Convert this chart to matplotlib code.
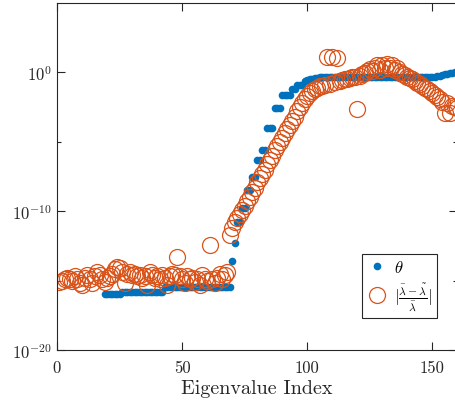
import numpy as np
import matplotlib
matplotlib.use("Agg")
import matplotlib.pyplot as plt
from matplotlib.ticker import FixedLocator, FixedFormatter

plt.rcParams['font.family'] = 'serif'
plt.rcParams['font.serif'] = ['cmr10']
plt.rcParams['mathtext.fontset'] = 'cm'
plt.rcParams['axes.unicode_minus'] = False

# theta (blue dots), log10 values, indices 19..160
theta_idx = np.arange(19, 161)
theta_log = (
    [-16.0] * 7 + [-15.8] * 17 + [-15.45] * 27
    + [-13.6, -12.3, -10.8, -10.8, -9.75, -9.75, -8.45, -8.45, -7.5, -7.5,
       -6.3, -6.3, -5.6, -5.6, -4.0, -4.0, -4.0, -2.55, -2.55, -2.55,
       -1.6, -1.6, -1.6, -1.6, -1.2, -1.2, -0.9, -0.9, -0.9,
       -0.6, -0.55, -0.5, -0.45, -0.42, -0.4]
    + [-0.35] * 46
    + [-0.3, -0.28, -0.25, -0.2, -0.15, -0.1, -0.06, -0.03, 0.0, 0.02]
)

# relative error (orange circles), log10 values, indices 1..160
err_idx = np.arange(1, 161)
err_log = [
    -15.1, -15.0, -14.9, -14.8, -14.9, -15.0, -14.7, -14.9, -15.2, -15.3,
    -14.8, -14.6, -14.9, -15.2, -14.7, -14.4, -14.6, -14.9, -15.1, -14.8,
    -14.7, -14.5, -14.2, -14.0, -14.1, -14.4, -15.2, -14.5, -14.4, -14.6,
    -14.5, -14.7, -14.6, -14.8, -14.7, -15.3, -14.4, -14.6, -14.8, -14.7,
    -14.9, -14.6, -14.8, -15.3, -14.7, -14.5, -14.6, -13.3, -14.7, -14.9,
    -15.2, -14.7, -14.9, -14.8, -15.1, -14.9, -15.3, -14.6, -14.9, -15.0,
    -12.4, -14.9, -15.2, -14.8, -14.5, -14.9, -14.6, -14.4, -11.7, -11.2,
    -10.8, -10.5, -10.2, -9.9, -9.6, -9.3, -9.0, -8.6, -8.3, -7.9,
    -7.6, -7.3, -7.0, -6.6, -6.3, -6.0, -5.6, -5.3, -5.0, -4.7,
    -4.4, -4.1, -3.8, -3.5, -3.2, -2.8, -2.5, -2.2, -1.9, -1.7,
    -1.5, -1.35, -1.2, -1.1, -1.0, -0.95, -0.9, 1.08, -0.8, 1.1,
    -0.7, 1.05, -0.6, -0.55, -0.5, -0.45, -0.4, -0.35, -0.3, -2.67,
    -0.25, -0.15, -0.05, 0.1, 0.25, 0.1, 0.35, 0.5, 0.2, 0.55,
    0.3, 0.6, 0.35, 0.5, 0.2, 0.3, 0.0, -0.1, -0.2, -0.3,
    -0.4, -0.5, -0.6, -0.75, -0.85, -0.95, -1.1, -1.2, -1.35, -1.5,
    -1.6, -1.8, -1.95, -2.1, -2.9, -2.2, -2.95, -2.4, -2.5, -2.6,
]

blue = '#0072BD'
orange = '#D95319'
axc = '#262626'

fig = plt.figure(figsize=(4.56, 4.06), dpi=100)
ax = fig.add_axes([57 / 456, 55 / 406, 400 / 456, 347 / 406])

ax.semilogy(theta_idx, 10.0 ** np.array(theta_log), 'o', color=blue,
            markersize=5.5, markeredgewidth=0, label=r'$\theta$')
ax.semilogy(err_idx, 10.0 ** np.array(err_log), 'o', markerfacecolor='none',
            markeredgecolor=orange, markersize=11.5, markeredgewidth=0.9,
            label=r'$|\frac{\bar{\lambda}-\tilde{\lambda}}{\bar{\lambda}}|$')

ax.set_xlim(0, 160)
ax.set_ylim(1e-20, 1e5)
ax.set_xticks([0, 50, 100, 150])
ax.yaxis.set_major_locator(FixedLocator([1e-20, 1e-10, 1e0]))
ax.yaxis.set_major_formatter(FixedFormatter([r'$10^{-20}$', r'$10^{-10}$', r'$10^{0}$']))
ax.yaxis.set_minor_locator(FixedLocator([1e-15, 1e-5]))
ax.yaxis.set_minor_formatter(FixedFormatter(['', '']))

ax.tick_params(which='both', direction='in', top=True, right=True,
               color=axc, labelcolor=axc, labelsize=12)
ax.tick_params(which='major', length=5.5, width=0.8)
ax.tick_params(which='minor', length=3, width=0.8)
ax.tick_params(axis='x', pad=7)
for s in ax.spines.values():
    s.set_color(axc)
    s.set_linewidth(0.8)

ax.set_xlabel('Eigenvalue Index', fontsize=14.5, color=axc, labelpad=3)

leg = ax.legend(loc='lower right', bbox_to_anchor=(0.95, 0.092),
                borderaxespad=0, fancybox=False, framealpha=1,
                edgecolor=axc, fontsize=12, handletextpad=0.4,
                borderpad=0.3, labelspacing=0.3, handlelength=1.2)
leg.get_frame().set_linewidth(0.8)

fig.savefig('out.png', dpi=100)
